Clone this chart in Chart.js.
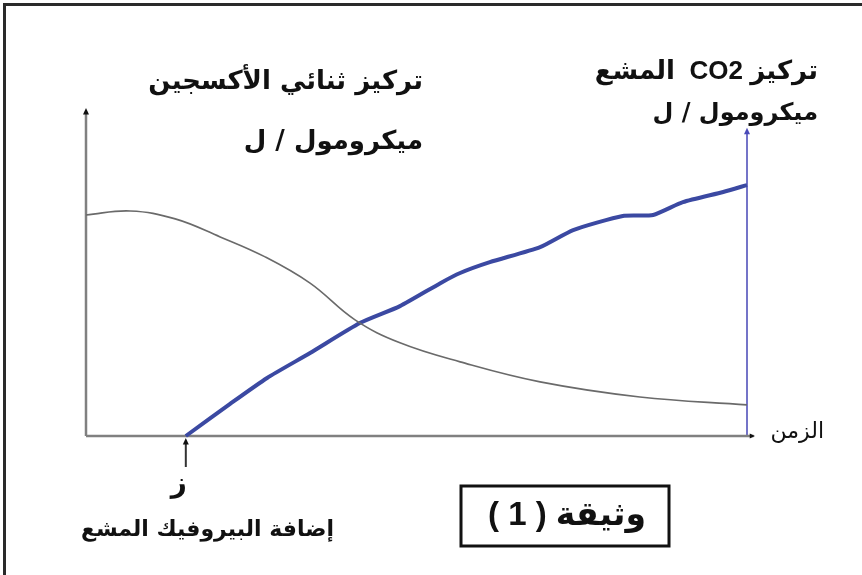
<!DOCTYPE html>
<html lang="ar">
<head>
<meta charset="utf-8">
<script src="https://cdn.jsdelivr.net/npm/chart.js@4.4.0/dist/chart.umd.min.js"></script>
<style>
  html, body { margin: 0; padding: 0; background: #fff; }
  #wrap { position: relative; width: 862px; height: 575px; }
</style>
</head>
<body>
<div id="wrap"><canvas id="doc1"></canvas></div>
<script>
// time is in arbitrary units (0 -> 100), concentrations too (0 -> 100)
const o2Time  = [0, 6.7, 13.5, 20.3, 27.1, 33.9, 40.7, 47.5, 56.6, 68.7, 83.8, 100];
const o2Conc  = [67.4, 68.6, 66.2, 60.7, 54.6, 46.6, 35.4, 28.4, 22.6, 16.5, 11.9, 9.5];

const co2Time = [15.1, 21.8, 27.4, 33.9, 41.5, 47.5, 53.6, 56.6, 61.1, 68.7, 73.7, 81.2, 85.8, 90.3, 96.4, 100];
const co2Conc = [0, 9.8, 17.7, 25.3, 34.5, 39.6, 46.6, 49.7, 53.0, 57.6, 62.8, 67.1, 67.4, 71.3, 74.4, 76.5];

const pyruvateTime = 15.1;   // moment "ز"
const co2AxisTop = 94;       // right axis is a bit shorter than the left one

const leftAxisTitle  = ["تركيز ثنائي الأكسجين", "ميكرومول / ل"];
const rightAxisTitle = ["تركيز CO2  المشع", "ميكرومول / ل"];
const xAxisTitle  = "الزمن";
const markerLabel = "ز";
const markerNote  = "إضافة البيروفيك المشع";
const docTitle    = "وثيقة ( 1 )";

const toPoints = (xs, ys) => xs.map((x, i) => ({ x: x, y: ys[i] }));

const AR_BOLD = 'bold 26px "DejaVu Sans", sans-serif';
const MIXED_BOLD = 'bold 26px "Liberation Sans", "DejaVu Sans", sans-serif';

function arrowHead(ctx, x, y, dir, size, color) {
  ctx.save();
  ctx.fillStyle = color;
  ctx.beginPath();
  if (dir === 'up') {
    ctx.moveTo(x, y);
    ctx.lineTo(x - size * 0.6, y + size * 1.3);
    ctx.lineTo(x + size * 0.6, y + size * 1.3);
  } else {
    ctx.moveTo(x, y);
    ctx.lineTo(x - size * 1.3, y - size * 0.6);
    ctx.lineTo(x - size * 1.3, y + size * 0.6);
  }
  ctx.closePath();
  ctx.fill();
  ctx.restore();
}

function line(ctx, x1, y1, x2, y2, color, w) {
  ctx.save();
  ctx.strokeStyle = color;
  ctx.lineWidth = w;
  ctx.beginPath();
  ctx.moveTo(x1, y1);
  ctx.lineTo(x2, y2);
  ctx.stroke();
  ctx.restore();
}

function rtlText(ctx, txt, x, y, font, align) {
  ctx.save();
  ctx.direction = 'rtl';
  ctx.font = font;
  ctx.fillStyle = '#111';
  ctx.textAlign = align || 'right';
  ctx.textBaseline = 'middle';
  ctx.fillText(txt, x, y);
  ctx.restore();
}

const docAxes = {
  id: 'docAxes',
  beforeDatasetsDraw(chart) {
    const ctx = chart.ctx;
    const xs = chart.scales.x, ys = chart.scales.y;
    const x0 = xs.getPixelForValue(0), xEnd = xs.getPixelForValue(100);
    const y0 = ys.getPixelForValue(0);

    // O2 axis (left)
    line(ctx, x0, y0, x0, ys.getPixelForValue(100) + 6, '#808080', 2.5);
    arrowHead(ctx, x0, ys.getPixelForValue(100), 'up', 5, '#111');

    // CO2 axis (right)
    line(ctx, xEnd, y0, xEnd, ys.getPixelForValue(co2AxisTop) + 6, '#7474c8', 2);
    arrowHead(ctx, xEnd, ys.getPixelForValue(co2AxisTop), 'up', 5, '#4a4ab8');

    // time axis
    line(ctx, x0, y0, xs.getPixelForValue(101), y0, '#808080', 2.5);
    arrowHead(ctx, xs.getPixelForValue(101.2), y0, 'right', 4, '#111');
  },
  afterDraw(chart) {
    const ctx = chart.ctx;
    const xs = chart.scales.x, ys = chart.scales.y;
    const y0 = ys.getPixelForValue(0);
    const xm = xs.getPixelForValue(pyruvateTime);

    // page frame (top + left only)
    ctx.save();
    ctx.strokeStyle = '#2a2a2a';
    ctx.lineWidth = 3;
    ctx.beginPath();
    ctx.moveTo(4.5, 575);
    ctx.lineTo(4.5, 4.5);
    ctx.lineTo(862, 4.5);
    ctx.stroke();
    ctx.restore();

    // axis titles
    rtlText(ctx, leftAxisTitle[0], 423, 82, AR_BOLD);
    rtlText(ctx, leftAxisTitle[1], 423, 142, AR_BOLD);
    rtlText(ctx, rightAxisTitle[0], 818, 72, MIXED_BOLD);
    rtlText(ctx, rightAxisTitle[1], 818, 114, 'bold 24px "DejaVu Sans", sans-serif');
    rtlText(ctx, xAxisTitle, 824, 432, '22px "DejaVu Sans", sans-serif');

    // pyruvate marker
    line(ctx, xm, y0 + 31, xm, y0 + 8, '#333', 2);
    arrowHead(ctx, xm, y0 + 2, 'up', 5, '#111');
    rtlText(ctx, markerLabel, xm - 7, 485, 'bold 28px "DejaVu Sans", sans-serif', 'center');
    rtlText(ctx, markerNote, 334, 530, 'bold 22px "DejaVu Sans", sans-serif');

    // document box
    ctx.save();
    ctx.strokeStyle = '#111';
    ctx.lineWidth = 3;
    ctx.strokeRect(461, 486, 208, 60);
    ctx.restore();
    rtlText(ctx, docTitle, 567, 516, 'bold 33px "Liberation Sans", "DejaVu Sans", sans-serif', 'center');
  }
};

new Chart(document.getElementById('doc1'), {
  type: 'line',
  data: {
    datasets: [
      {
        label: 'O2',
        data: toPoints(o2Time, o2Conc),
        borderColor: '#6a6a6a',
        borderWidth: 1.6,
        pointRadius: 0,
        tension: 0.4,
        clip: false
      },
      {
        label: 'CO2',
        data: toPoints(co2Time, co2Conc),
        borderColor: '#3b49a2',
        borderWidth: 4,
        pointRadius: 0,
        tension: 0.2,
        clip: false
      }
    ]
  },
  options: {
    responsive: true,
    maintainAspectRatio: false,
    animation: false,
    events: [],
    layout: { padding: { left: 86, right: 115, top: 108, bottom: 139 } },
    scales: {
      x: { type: 'linear', min: 0, max: 100, display: false },
      y: { type: 'linear', min: 0, max: 100, display: false }
    },
    plugins: {
      legend: { display: false },
      tooltip: { enabled: false }
    }
  },
  plugins: [docAxes]
});
</script>
</body>
</html>
